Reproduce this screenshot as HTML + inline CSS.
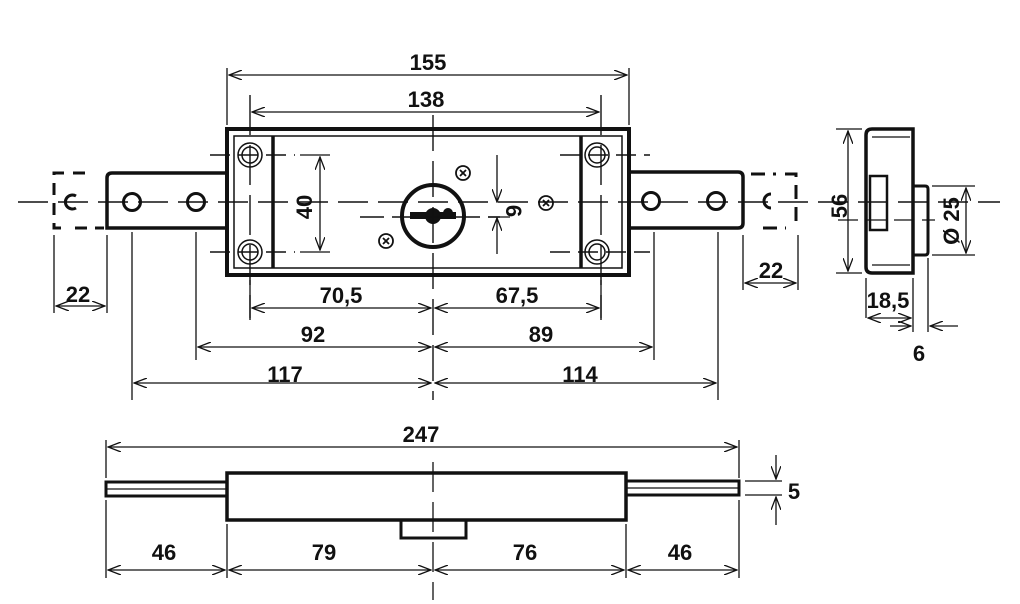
<!DOCTYPE html>
<html><head><style>
html,body{margin:0;padding:0;background:#fff;}
svg{display:block;}
text{font-family:"Liberation Sans",sans-serif;font-weight:bold;font-size:22px;fill:#111;}
</style></head><body>
<svg width="1020" height="604" viewBox="0 0 1020 604" xmlns="http://www.w3.org/2000/svg">
<defs>
<marker id="a" viewBox="0 0 14 10" refX="13" refY="5" markerWidth="14" markerHeight="10" orient="auto-start-reverse" markerUnits="userSpaceOnUse">
<path d="M0,0 L13,5 L0,10" fill="none" stroke="#111" stroke-width="1.3"/></marker>
</defs>
<g stroke="#111" fill="none">
<!-- top view body -->
<rect x="227" y="129" width="402" height="146" stroke-width="4"/>
<rect x="234" y="136" width="388" height="132" stroke-width="1.5"/>
<line x1="273" y1="136" x2="273" y2="268" stroke-width="3.5"/>
<line x1="581" y1="136" x2="581" y2="268" stroke-width="3.5"/>
<g stroke-width="1.5">
<circle cx="250" cy="155" r="12"/><circle cx="250" cy="155" r="8"/>
<circle cx="250" cy="252" r="12"/><circle cx="250" cy="252" r="8"/>
<circle cx="597" cy="155" r="12"/><circle cx="597" cy="155" r="8"/>
<circle cx="597" cy="252" r="12"/><circle cx="597" cy="252" r="8"/>
</g>
<path d="M227,173 H112 Q107,173 107,178 V228 H227" stroke-width="3.5"/>
<circle cx="132" cy="202" r="8.5" stroke-width="3"/>
<circle cx="196" cy="202" r="8.5" stroke-width="3"/>
<path d="M64,173 H54 V228 H64 M73,173 H93 M75,228 H104" stroke-width="3" stroke-dasharray="12 8"/>
<path d="M76,196 A7,7 0 1 0 76,208" stroke-width="3"/>
<path d="M629,172 H738 Q743,172 743,177 V223 Q743,228 738,228 H629" stroke-width="3.5"/>
<circle cx="651" cy="201" r="8.5" stroke-width="3"/>
<circle cx="716" cy="201" r="8.5" stroke-width="3"/>
<path d="M751,174 H776 M785,174 H796 V228 M763,228 H786" stroke-width="3" stroke-dasharray="14 8"/>
<path d="M771,194 A7,7 0 1 0 771,208" stroke-width="3"/>
<circle cx="433" cy="216" r="31" stroke-width="4"/>
<rect x="410" y="212" width="46" height="7" fill="#111" stroke="none"/>
<circle cx="433" cy="216" r="8" fill="#111" stroke="none"/>
<circle cx="448" cy="213" r="5" fill="#111" stroke="none"/>
<g stroke-width="1.8">
<circle cx="463" cy="173" r="7"/><path d="M460,170 l6,6 M466,170 l-6,6"/>
<circle cx="386" cy="241" r="7"/><path d="M383,238 l6,6 M389,238 l-6,6"/>
<circle cx="546" cy="203" r="7"/><path d="M543,200 l6,6 M549,200 l-6,6"/>
</g>
<g stroke-width="1.4">
<path d="M18,202 H1000" stroke-dasharray="30 10"/>
<path d="M433,115 V400" stroke-dasharray="36 10"/>
<path d="M360,217 H500" stroke-dasharray="24 8"/>
<path d="M210,155 H295 M560,155 H650 M210,252 H295 M550,252 H650" stroke-dasharray="20 8"/>
<path d="M250,95 V320 M601,95 V320" stroke-dasharray="40 10"/>
</g>
<g stroke-width="1.3">
<line x1="227" y1="68" x2="227" y2="125"/><line x1="629" y1="68" x2="629" y2="125"/>
<line x1="229" y1="75" x2="627" y2="75" marker-start="url(#a)" marker-end="url(#a)"/>
<line x1="252" y1="112" x2="599" y2="112" marker-start="url(#a)" marker-end="url(#a)"/>
<line x1="300" y1="155" x2="330" y2="155"/><line x1="300" y1="252" x2="330" y2="252"/>
<line x1="320" y1="157" x2="320" y2="250" marker-start="url(#a)" marker-end="url(#a)"/>
<line x1="497" y1="155" x2="497" y2="202" marker-end="url(#a)"/>
<line x1="497" y1="254" x2="497" y2="218" marker-end="url(#a)"/>
<line x1="488" y1="217" x2="510" y2="217"/>
<line x1="250" y1="280" x2="250" y2="318"/><line x1="601" y1="280" x2="601" y2="318"/>
<line x1="196" y1="232" x2="196" y2="360"/><line x1="654" y1="232" x2="654" y2="360"/>
<line x1="132" y1="232" x2="132" y2="400"/><line x1="718" y1="232" x2="718" y2="400"/>
<line x1="54" y1="235" x2="54" y2="313"/><line x1="107" y1="235" x2="107" y2="313"/>
<line x1="743" y1="235" x2="743" y2="290"/><line x1="798" y1="235" x2="798" y2="290"/>
<line x1="252" y1="308" x2="431" y2="308" marker-start="url(#a)" marker-end="url(#a)"/>
<line x1="435" y1="308" x2="599" y2="308" marker-start="url(#a)" marker-end="url(#a)"/>
<line x1="198" y1="347" x2="431" y2="347" marker-start="url(#a)" marker-end="url(#a)"/>
<line x1="435" y1="347" x2="652" y2="347" marker-start="url(#a)" marker-end="url(#a)"/>
<line x1="134" y1="383" x2="431" y2="383" marker-start="url(#a)" marker-end="url(#a)"/>
<line x1="435" y1="383" x2="716" y2="383" marker-start="url(#a)" marker-end="url(#a)"/>
<line x1="56" y1="306" x2="105" y2="306" marker-start="url(#a)" marker-end="url(#a)"/>
<line x1="745" y1="283" x2="796" y2="283" marker-start="url(#a)" marker-end="url(#a)"/>
</g>
<path d="M913,129 H872 Q866,129 866,135 V267 Q866,273 872,273 H913 Z" stroke-width="3.5"/>
<rect x="870" y="176" width="17" height="54" stroke-width="2.5"/>
<path d="M913,186 H925 Q928,186 928,189 V252 Q928,255 925,255 H913" stroke-width="3"/>
<path d="M872,137 H910 M872,265 H910" stroke-width="1.3"/>
<g stroke-width="1.3">
<path d="M838,220 H935" stroke-dasharray="20 8"/>
<line x1="836" y1="129" x2="862" y2="129"/><line x1="836" y1="273" x2="862" y2="273"/>
<line x1="848" y1="131" x2="848" y2="271" marker-start="url(#a)" marker-end="url(#a)"/>
<line x1="932" y1="186" x2="975" y2="186"/><line x1="932" y1="255" x2="975" y2="255"/>
<line x1="966" y1="188" x2="966" y2="253" marker-start="url(#a)" marker-end="url(#a)"/>
<line x1="866" y1="278" x2="866" y2="318"/><line x1="913" y1="278" x2="913" y2="332"/>
<line x1="928" y1="258" x2="928" y2="332"/>
<line x1="868" y1="318" x2="911" y2="318" marker-start="url(#a)" marker-end="url(#a)"/>
<line x1="890" y1="326" x2="911" y2="326" marker-end="url(#a)"/>
<line x1="958" y1="326" x2="930" y2="326" marker-end="url(#a)"/>
</g>
<rect x="227" y="473" width="399" height="47" stroke-width="3.5"/>
<rect x="106" y="482" width="121" height="14" stroke-width="3"/>
<line x1="106" y1="489" x2="227" y2="489" stroke-width="1.3"/>
<rect x="626" y="481" width="113" height="14" stroke-width="3"/>
<line x1="626" y1="488" x2="739" y2="488" stroke-width="1.3"/>
<path d="M401,520 V538 H466 V520" stroke-width="3"/>
<g stroke-width="1.3">
<path d="M433,462 V600" stroke-dasharray="30 10"/>
<line x1="106" y1="440" x2="106" y2="478"/><line x1="739" y1="440" x2="739" y2="478"/>
<line x1="108" y1="447" x2="737" y2="447" marker-start="url(#a)" marker-end="url(#a)"/>
<line x1="106" y1="500" x2="106" y2="578"/><line x1="227" y1="524" x2="227" y2="578"/>
<line x1="626" y1="524" x2="626" y2="578"/><line x1="739" y1="500" x2="739" y2="578"/>
<line x1="108" y1="570" x2="225" y2="570" marker-start="url(#a)" marker-end="url(#a)"/>
<line x1="229" y1="570" x2="431" y2="570" marker-start="url(#a)" marker-end="url(#a)"/>
<line x1="435" y1="570" x2="624" y2="570" marker-start="url(#a)" marker-end="url(#a)"/>
<line x1="628" y1="570" x2="737" y2="570" marker-start="url(#a)" marker-end="url(#a)"/>
<line x1="745" y1="481" x2="782" y2="481"/><line x1="745" y1="495" x2="782" y2="495"/>
<line x1="776" y1="455" x2="776" y2="479" marker-end="url(#a)"/>
<line x1="776" y1="525" x2="776" y2="497" marker-end="url(#a)"/>
</g>
</g>
<g text-anchor="middle">
<text x="428" y="70">155</text>
<text x="426" y="107">138</text>
<text x="341" y="303">70,5</text>
<text x="517" y="303">67,5</text>
<text x="313" y="342">92</text>
<text x="541" y="342">89</text>
<text x="285" y="382">117</text>
<text x="580" y="382">114</text>
<text x="78" y="302">22</text>
<text x="771" y="278">22</text>
<text x="888" y="308">18,5</text>
<text x="919" y="361">6</text>
<text x="421" y="442">247</text>
<text x="164" y="560">46</text>
<text x="324" y="560">79</text>
<text x="525" y="560">76</text>
<text x="680" y="560">46</text>
<text x="794" y="499">5</text>
<text transform="translate(312,207) rotate(-90)">40</text>
<text transform="translate(506,211) rotate(90)">6</text>
<text transform="translate(847,206) rotate(-90)">56</text>
<text transform="translate(959,221) rotate(-90)">Ø 25</text>
</g>
</svg>
</body></html>
